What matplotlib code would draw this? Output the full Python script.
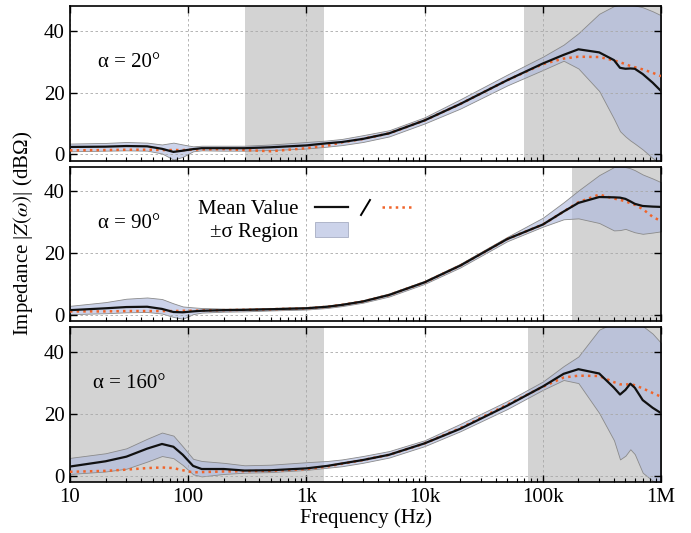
import matplotlib
matplotlib.use('Agg')
import matplotlib.pyplot as plt
from matplotlib.lines import Line2D
from matplotlib.patches import Patch
from matplotlib.path import Path
from matplotlib.legend_handler import HandlerTuple
from matplotlib.ticker import FixedLocator, LogLocator, NullFormatter

plt.rcParams['font.family'] = ['Liberation Serif', 'DejaVu Serif']
plt.rcParams['mathtext.fontset'] = 'stix'
plt.rcParams['font.size'] = 15

# frequency grid (Hz)
freq = [10, 20, 30, 45, 60, 75, 90, 110, 130, 200, 300, 500, 1e3, 1.5e3, 2e3, 3e3, 5e3,
        1e4, 2e4, 5e4, 1e5, 1.5e5, 2e5, 3e5, 4e5, 4.5e5, 5e5, 5.5e5, 6e5, 7e5, 8.5e5, 1e6]

# alpha = 20 deg
mean_20 = [2.4, 2.5, 2.7, 2.6, 1.8, 0.8, 1.2, 1.7, 2.0, 2.0, 2.0, 2.3, 2.9, 3.6, 4.0, 5.0, 6.8,
           11.0, 16.3, 24.0, 29.4, 32.2, 34.0, 33.0, 30.5, 28.0, 27.7, 27.8, 27.7, 26.0, 23.2, 20.5]
other_20 = [1.3, 1.4, 1.5, 1.5, 1.4, 1.4, 1.4, 1.5, 1.6, 1.7, 1.4, 1.0, 2.0, 2.8, 3.9, 5.0, 6.8,
            11.0, 16.3, 24.0, 29.2, 31.0, 31.6, 31.5, 30.4, 29.8, 29.2, 28.6, 28.2, 27.5, 26.4, 25.3]
upper_20 = [3.5, 3.7, 4.0, 3.8, 3.2, 3.8, 3.2, 2.6, 2.8, 2.8, 2.8, 3.2, 4.0, 4.5, 5.0, 6.2, 7.8,
            12.0, 17.8, 25.8, 31.6, 35.5, 39.2, 45.5, 48.0, 48.5, 48.6, 48.4, 48.2, 47.6, 46.3, 45.0]
lower_20 = [1.0, 1.2, 1.3, 1.2, 0.3, -1.7, -0.8, 1.0, 1.3, 1.2, 1.2, 1.4, 1.9, 2.5, 3.0, 4.0, 5.8,
            10.0, 14.8, 22.3, 27.3, 30.3, 27.8, 20.5, 11.5, 7.5, 5.8, 4.5, 3.5, 1.6, -1.2, -3.0]

# alpha = 90 deg
mean_90 = [1.6, 2.2, 2.6, 2.7, 2.0, 1.0, 0.9, 1.2, 1.4, 1.6, 1.7, 1.9, 2.2, 2.7, 3.3, 4.4, 6.5,
           10.6, 16.0, 24.6, 29.3, 33.5, 36.3, 38.2, 38.1, 38.0, 37.6, 36.8, 36.0, 35.3, 35.1, 35.0]
other_90 = [1.2, 1.2, 1.3, 1.3, 1.3, 1.3, 1.4, 1.4, 1.5, 1.6, 1.7, 1.9, 2.2, 2.7, 3.3, 4.4, 6.5,
            10.6, 16.0, 24.6, 29.3, 33.5, 36.5, 39.0, 37.7, 37.3, 36.8, 36.2, 35.7, 34.3, 31.8, 30.4]
upper_90 = [3.0, 4.2, 5.3, 5.7, 5.2, 3.8, 2.8, 2.5, 2.3, 2.1, 2.1, 2.3, 2.6, 3.1, 3.7, 4.8, 7.0,
            11.1, 16.6, 25.3, 31.5, 36.5, 40.3, 45.3, 47.9, 48.0, 47.9, 47.5, 46.9, 45.5, 44.2, 43.0]
lower_90 = [0.3, 0.6, 0.9, 1.0, 0.5, -0.6, -1.2, 0.3, 0.8, 1.1, 1.2, 1.5, 1.8, 2.3, 2.9, 4.0, 6.0,
            10.1, 15.4, 23.9, 28.6, 31.0, 31.3, 29.8, 27.4, 27.5, 27.9, 27.3, 26.8, 26.3, 26.7, 27.1]

# alpha = 160 deg
mean_160 = [3.0, 4.7, 6.2, 8.8, 10.3, 9.4, 6.8, 3.2, 2.2, 2.2, 1.7, 1.8, 2.4, 3.2, 4.0, 5.1, 6.8,
            10.5, 15.2, 22.7, 28.9, 33.0, 34.5, 33.1, 28.5, 26.3, 27.8, 29.8, 28.5, 24.5, 22.0, 20.3]
other_160 = [1.3, 1.6, 2.0, 2.5, 2.7, 2.5, 1.8, 1.1, 1.2, 1.4, 1.5, 1.6, 2.2, 3.0, 3.9, 5.1, 6.8,
             10.5, 15.4, 23.0, 28.8, 31.8, 32.4, 32.3, 30.3, 29.6, 29.5, 29.7, 29.3, 28.3, 26.8, 25.6]
upper_160 = [5.8, 7.3, 8.9, 12.0, 14.0, 13.0, 9.5, 5.5, 4.8, 4.2, 3.4, 3.6, 4.4, 4.8, 5.3, 6.4, 8.0,
             11.5, 16.8, 24.2, 30.5, 35.5, 38.6, 47.3, 49.5, 49.8, 50.0, 50.0, 49.5, 48.5, 46.0, 43.0]
lower_160 = [0.6, 1.4, 2.3, 4.6, 6.4, 5.7, 3.5, 0.5, -0.2, 0.6, 1.0, 1.2, 1.9, 2.6, 3.1, 4.2, 5.9,
             9.6, 14.4, 21.6, 27.8, 31.0, 30.0, 20.3, 11.5, 5.3, 6.5, 8.6, 7.0, 1.0, -1.6, -3.0]

# shaded (gray) frequency bands per panel
bands_20 = [(300, 1400), (70e3, 1e6)]
bands_90 = [(175e3, 1e6)]
bands_160 = [(10, 1400), (75e3, 1e6)]

labels = ['α = 20°', 'α = 90°', 'α = 160°']
xticks = [10, 100, 1e3, 1e4, 1e5, 1e6]
xticklabels = ['10', '100', '1k', '10k', '100k', '1M']
yticks = [0, 20, 40]

panels = [
    (mean_20, other_20, upper_20, lower_20, bands_20),
    (mean_90, other_90, upper_90, lower_90, bands_90),
    (mean_160, other_160, upper_160, lower_160, bands_160),
]

fill_color = (0.68, 0.72, 0.87, 0.62)
orange = '#f0642a'

fig, axes = plt.subplots(3, 1, figsize=(6.91, 5.33), dpi=100, sharex=True)
fig.subplots_adjust(left=0.1013, right=0.9566, top=0.9887, bottom=0.0957, hspace=0.04)

for i, ax in enumerate(axes):
    mean, other, upper, lower, bands = panels[i]
    for b in bands:
        ax.axvspan(b[0], b[1], color='#d3d3d3', lw=0)
    ax.fill_between(freq, lower, upper, facecolor=fill_color, edgecolor='#8a8a8a', lw=0.6)
    ax.plot(freq, other, ':', color=orange, lw=1.8, zorder=3)
    ax.plot(freq, mean, '-', color='#111111', lw=1.6, zorder=4)

    ax.set_xscale('log')
    ax.set_xlim(10, 1e6)
    ax.set_ylim(-2, 48)
    ax.xaxis.set_major_locator(FixedLocator(xticks))
    ax.xaxis.set_minor_locator(LogLocator(base=10, subs=range(2, 10), numticks=20))
    ax.xaxis.set_minor_formatter(NullFormatter())
    ax.set_yticks(yticks)
    ax.set_xticks(xticks)
    ax.set_xticklabels(xticklabels)
    ax.grid(True, which='major', ls=(0, (3, 3)), lw=0.6, color='#a8a8a8')
    ax.tick_params(which='major', direction='in', length=5, width=1, top=True, right=True,
                   labelsize=15, pad=4)
    ax.tick_params(which='minor', direction='in', length=3, width=0.8, top=False)
    for s in ax.spines.values():
        s.set_linewidth(1.2)
    ax.text(0.047 if i < 2 else 0.039, 0.635, labels[i], transform=ax.transAxes,
            fontsize=15, va='center', ha='left')

axes[2].set_xlabel('Frequency (Hz)', fontsize=15, labelpad=1)
fig.text(0.034, 0.562, 'Impedance |$Z(\\omega)$| (dBΩ)', rotation=90,
         ha='center', va='center', fontsize=15)

# legend in middle panel
slash = Path([(-0.3, -0.5), (0.3, 0.5)], [Path.MOVETO, Path.LINETO])
h_mean = (Line2D([], [], color='#111111', lw=1.6),
          Line2D([], [], color='k', marker=slash, ls='none', markersize=12, markeredgewidth=1.4),
          Line2D([], [], color=orange, ls=':', lw=1.8))
h_sigma = (Patch(facecolor=fill_color, edgecolor='#9aa0b8', lw=0.5),
           Line2D([], [], ls='none'),
           Line2D([], [], ls='none'))
axes[1].legend([h_mean, h_sigma], ['Mean Value', '±σ Region'],
               handler_map={tuple: HandlerTuple(ndivide=None, pad=0.05)},
               markerfirst=False, frameon=False, fontsize=15,
               handlelength=4.8, handletextpad=0.8, labelspacing=0.15,
               loc='center', bbox_to_anchor=(0.40, 0.65))

fig.savefig('out.png', dpi=100)
